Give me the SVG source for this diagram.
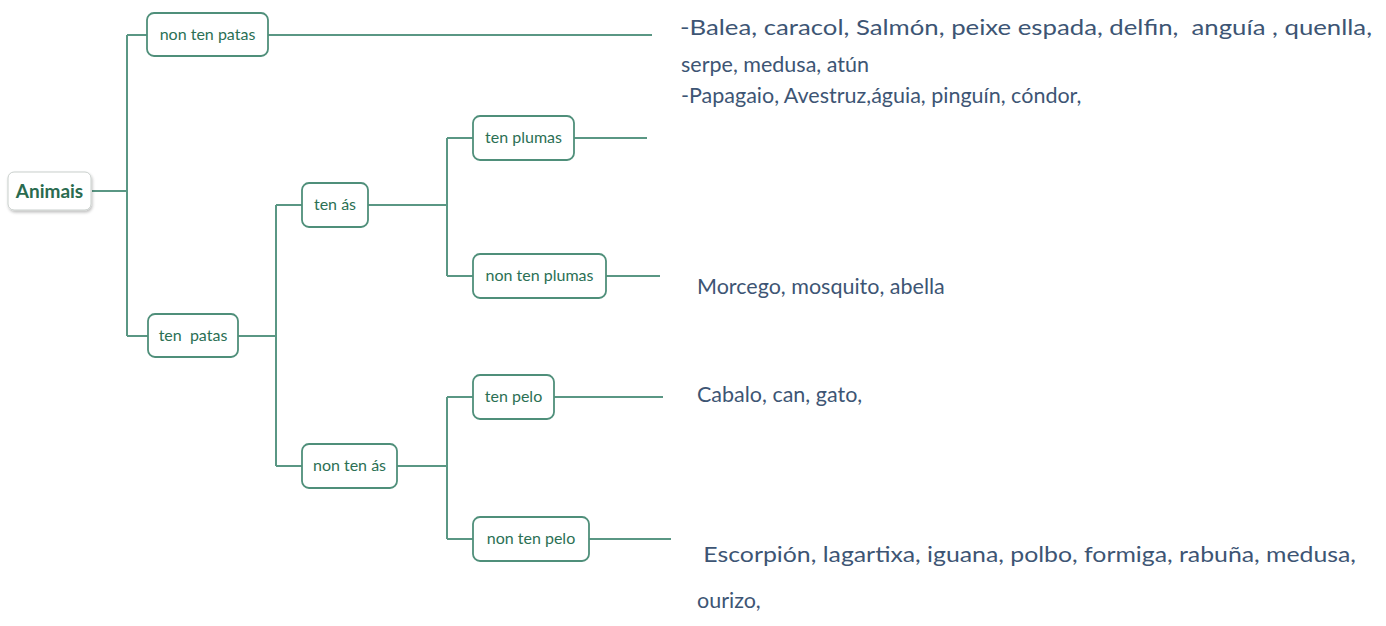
<svg xmlns="http://www.w3.org/2000/svg" width="1386" height="626" viewBox="0 0 1386 626">
<defs>
<filter id="sh" x="-20%" y="-20%" width="140%" height="150%">
<feGaussianBlur in="SourceAlpha" stdDeviation="1.5"/>
<feOffset dx="1" dy="2" result="b"/>
<feFlood flood-color="#000" flood-opacity="0.25"/>
<feComposite in2="b" operator="in"/>
<feMerge><feMergeNode/><feMergeNode in="SourceGraphic"/></feMerge>
</filter>
</defs>
<style>
.box{fill:#fff;stroke:#4f8f7a;stroke-width:1.8}
.root{fill:#fff;stroke:#c9cfcc;stroke-width:1}
.lbl{font-family:Lato,"Open Sans",sans-serif;font-size:16px;fill:#2b7054;text-anchor:middle}
.rlbl{font-family:Lato,"Open Sans",sans-serif;font-size:19px;font-weight:bold;fill:#2a6b4f;text-anchor:middle}
.con{stroke:#5a9784;stroke-width:2;fill:none}
.txt{font-family:Lato,"Liberation Sans",sans-serif;font-size:21.5px;fill:#3d5574}
</style>
<rect width="1386" height="626" fill="#fff"/>
<g id="connectors">
<path class="con" d="M92 191H127M127 35V336M127 35H147M268 35H652M127 336H148M238 336H276M276 205V466M276 205H302M368 205H448M276 466H302M397 466H447M447 138V276M447 138H473M574 138H647M447 276H473M606 276H660M447 397V539M447 397H473M554 397H663M447 539H473M589 539H671"/>
</g>
<g id="animais"><rect class="root" x="8" y="172" width="83" height="38" rx="6" filter="url(#sh)"/><text class="rlbl" x="49.5" y="198">Animais</text></g>
<g id="non-ten-patas"><rect class="box" x="147" y="13" width="121" height="43" rx="7"/><text class="lbl" x="207.5" y="40">non ten patas</text></g>
<g id="ten-patas"><rect class="box" x="148" y="314" width="90" height="43" rx="7"/><text class="lbl" x="193" y="341" xml:space="preserve">ten  patas</text></g>
<g id="ten-as"><rect class="box" x="302" y="183" width="66" height="44" rx="7"/><text class="lbl" x="335" y="210">ten ás</text></g>
<g id="non-ten-as"><rect class="box" x="302" y="444" width="95" height="44" rx="7"/><text class="lbl" x="349.5" y="471">non ten ás</text></g>
<g id="ten-plumas"><rect class="box" x="473" y="116" width="101" height="44" rx="7"/><text class="lbl" x="523.5" y="143">ten plumas</text></g>
<g id="non-ten-plumas"><rect class="box" x="473" y="254" width="133" height="44" rx="7"/><text class="lbl" x="539.5" y="281">non ten plumas</text></g>
<g id="ten-pelo"><rect class="box" x="473" y="375" width="81" height="44" rx="7"/><text class="lbl" x="513.5" y="402">ten pelo</text></g>
<g id="non-ten-pelo"><rect class="box" x="473" y="517" width="116" height="44" rx="7"/><text class="lbl" x="531" y="544">non ten pelo</text></g>
<g id="lists">
<text class="txt" x="680" y="35" textLength="692" lengthAdjust="spacingAndGlyphs" xml:space="preserve">-Balea, caracol, Salmón, peixe espada, delfin,  anguía , quenlla,</text>
<text class="txt" x="681" y="72">serpe, medusa, atún</text>
<text class="txt" x="681" y="103">-Papagaio, Avestruz,águia, pinguín, cóndor,</text>
<text class="txt" x="697" y="294">Morcego, mosquito, abella</text>
<text class="txt" x="697" y="402">Cabalo, can, gato,</text>
<text class="txt" x="697" y="562" textLength="659" lengthAdjust="spacingAndGlyphs" xml:space="preserve"> Escorpión, lagartixa, iguana, polbo, formiga, rabuña, medusa,</text>
<text class="txt" x="697" y="608">ourizo,</text>
</g>
</svg>
